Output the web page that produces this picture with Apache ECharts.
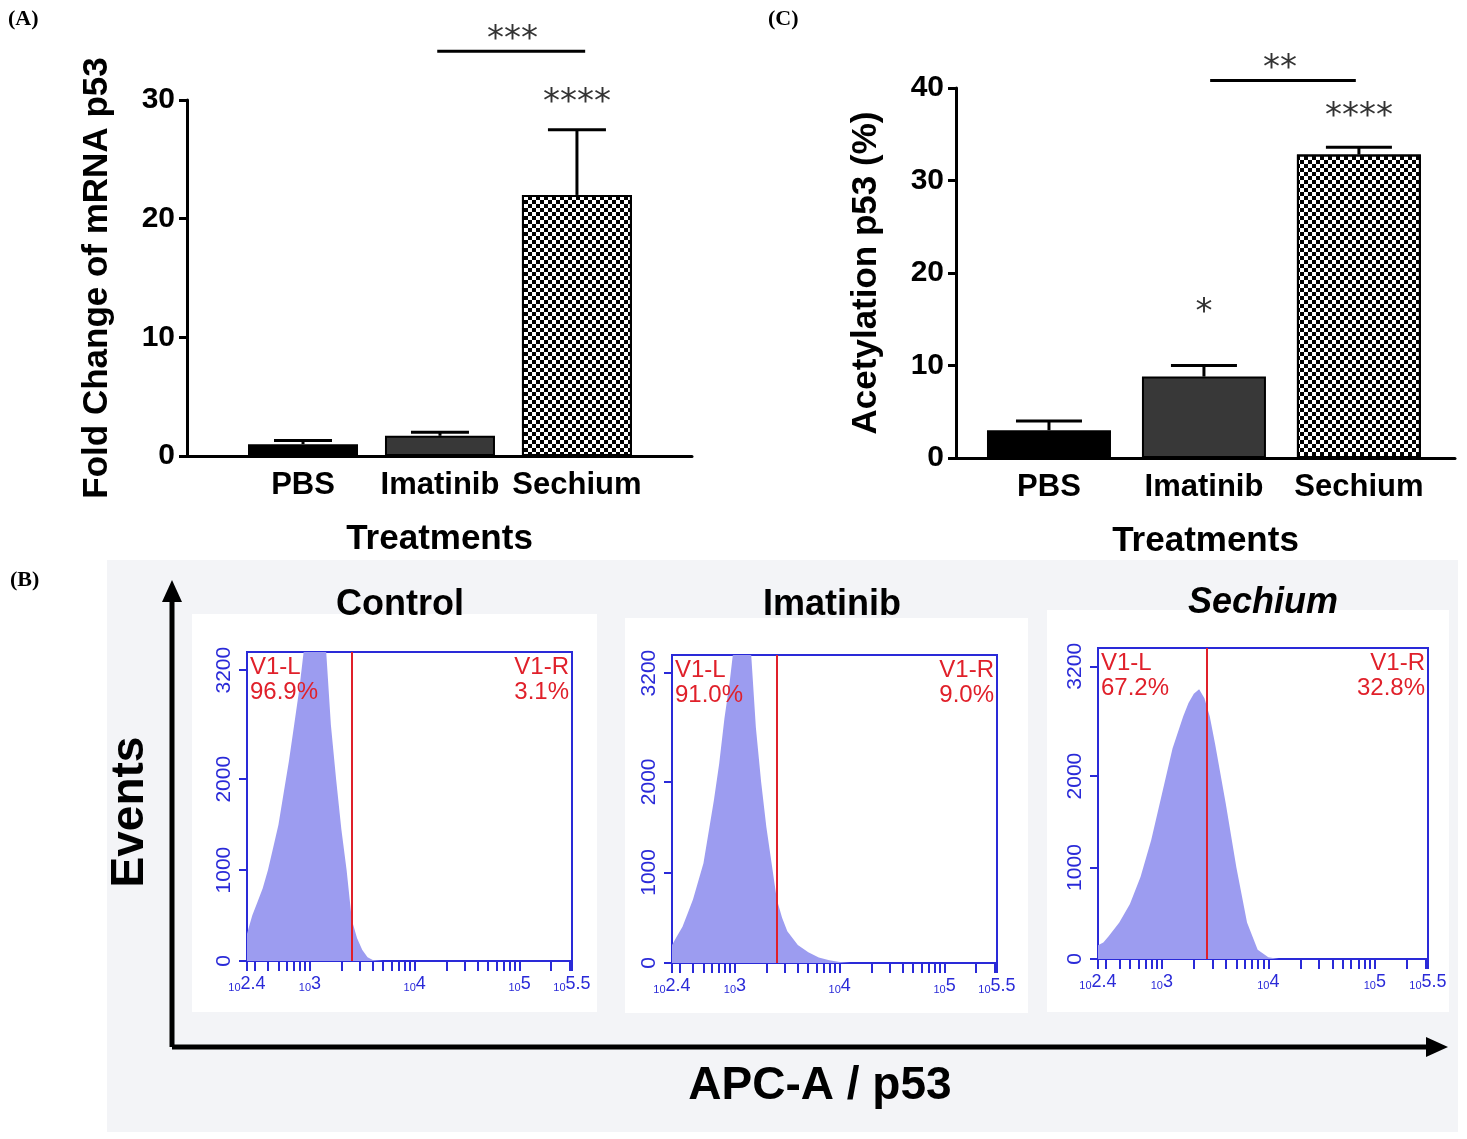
<!DOCTYPE html>
<html><head><meta charset="utf-8">
<script src="https://cdn.jsdelivr.net/npm/echarts@6/dist/echarts.min.js"></script>
<style>html,body{margin:0;background:#fff}#c{width:1467px;height:1139px}</style>
</head><body><div id="c"></div>
<script>
// panel A: fold change of mRNA p53
const treatments = ['PBS', 'Imatinib', 'Sechium'];
const foldMean = [1.0, 1.7, 22.0];
const foldUpper = [1.3, 2.0, 27.5];
const foldTicks = [0, 10, 20, 30];
// panel C: acetylation p53 (%)
const acetMean = [3.0, 8.8, 32.8];
const acetUpper = [4.0, 10.0, 33.6];
const acetTicks = [0, 10, 20, 30, 40];
// significance marks [x1, x2, y] and [x, y, text]
const sigLinesA = [[1.98, 3.06, 34.1]];
const starsA = [[2.53, 35.0, '***'], [3, 29.7, '****']];
const sigLinesC = [[2.04, 2.98, 40.8]];
const starsC = [[2.49, 42.0, '**'], [3, 36.8, '****'], [2, 15.7, '*']];
// panel B: histograms, x = log10(APC-A), y = events
const histTitles = ['Control', 'Imatinib', 'Sechium'];
const gatePos = [3.40, 3.40, 3.42];
const leftPct = ['96.9%', '91.0%', '67.2%'];
const rightPct = ['3.1%', '9.0%', '32.8%'];
const histControl = [[2.4,300],[2.45,500],[2.5,650],[2.55,800],[2.6,1000],[2.65,1250],[2.7,1500],[2.75,1850],[2.8,2200],[2.85,2600],[2.9,3000],[2.95,3500],[3.0,3600],[3.1,3600],[3.15,3500],[3.2,2600],[3.25,2000],[3.3,1450],[3.35,1000],[3.4,450],[3.45,250],[3.5,120],[3.55,40],[3.6,10],[3.7,0],[5.5,0]];
const histImatinib = [[2.4,200],[2.45,300],[2.5,400],[2.55,550],[2.6,700],[2.7,1100],[2.8,1800],[2.85,2200],[2.9,2700],[2.95,3100],[3.0,3600],[3.1,3600],[3.15,3500],[3.2,2600],[3.25,2000],[3.3,1500],[3.35,1100],[3.4,700],[3.45,500],[3.5,350],[3.6,200],[3.7,120],[3.8,60],[3.9,30],[4.0,10],[4.1,0],[5.5,0]];
const histSechium = [[2.4,150],[2.45,180],[2.5,250],[2.6,400],[2.7,600],[2.8,900],[2.9,1300],[3.0,1800],[3.1,2300],[3.2,2650],[3.25,2800],[3.3,2900],[3.35,2950],[3.4,2850],[3.45,2650],[3.5,2350],[3.6,1700],[3.7,1000],[3.8,400],[3.9,100],[4.0,20],[4.1,0],[5.5,0]];
const histData = [histControl, histImatinib, histSechium];
const histYLabels = [0, 1000, 2000, 3200];
const histXMajor = [2.4, 3, 4, 5, 5.5];
const histXLabels = ['2.4', '3', '4', '5', '5.5'];
const histXMinor = [300,400,500,600,700,800,900,2000,3000,4000,5000,6000,7000,8000,9000,20000,30000,40000,50000,60000,70000,80000,90000,200000,300000].map(v => Math.log10(v));

const chart = echarts.init(document.getElementById('c'));
const bold = 'Liberation Sans';
const blue = '#2a2ad8';

function barAxes(gi, min, max, ticks, title, nameGap) {
    return {
        x: {type: 'value', gridIndex: gi, min: min, max: max, splitLine: {show: false},
            axisLine: {lineStyle: {color: '#000', width: 3}}, axisTick: {show: false},
            axisLabel: {customValues: [1, 2, 3], formatter: v => treatments[Math.round(v) - 1],
                fontFamily: bold, fontWeight: 'bold', fontSize: 31, color: '#000', margin: 14},
            name: 'Treatments', nameLocation: 'middle', nameGap: 66,
            nameTextStyle: {fontFamily: bold, fontWeight: 'bold', fontSize: 35, color: '#000'}},
        y: {type: 'value', gridIndex: gi, min: 0, max: ticks[ticks.length - 1], interval: 10,
            splitLine: {show: false}, axisLine: {show: true, lineStyle: {color: '#000', width: 3}},
            axisTick: {show: true, length: 8, lineStyle: {width: 3}},
            axisLabel: {fontFamily: bold, fontWeight: 'bold', fontSize: 30, color: '#000', margin: 12},
            name: title, nameLocation: 'middle', nameGap: nameGap, nameRotate: 90,
            nameTextStyle: {fontFamily: bold, fontWeight: 'bold', fontSize: 35, color: '#000'}}
    };
}
const axA = barAxes(0, 0.153, 3.84, foldTicks, 'Fold Change of mRNA p53', 72);
const axC = barAxes(1, 0.4, 3.62, acetTicks, 'Acetylation p53 (%)', 72);

const checker = {symbol: 'rect', symbolSize: 1, color: '#000', dashArrayX: [[4, 4], [0, 4, 4, 0]], dashArrayY: [4, 0]};
function bars(gi, means, width) {
    return {type: 'bar', xAxisIndex: gi, yAxisIndex: gi, barWidth: width,
        data: means.map((m, i) => ({value: [i + 1, m], itemStyle: i === 2 ?
            {color: '#fff', borderColor: '#000', borderWidth: 2, decal: checker} :
            {color: i === 0 ? '#000' : '#383838', borderColor: '#000', borderWidth: 2}}))};
}
function errs(gi, means, uppers, cap) {
    return {type: 'custom', xAxisIndex: gi, yAxisIndex: gi, clip: false,
        data: means.map((m, i) => [i + 1, m, uppers[i]]),
        renderItem: (p, api) => {
            const a = api.coord([api.value(0), api.value(1)]), b = api.coord([api.value(0), api.value(2)]);
            const st = {stroke: '#000', lineWidth: 3};
            return {type: 'group', children: [
                {type: 'line', shape: {x1: a[0], y1: a[1], x2: b[0], y2: b[1]}, style: st},
                {type: 'line', shape: {x1: b[0] - cap / 2, y1: b[1], x2: b[0] + cap / 2, y2: b[1]}, style: st}]};
        }};
}
function sigLines(gi, lines) {
    return {type: 'custom', xAxisIndex: gi, yAxisIndex: gi, clip: false, data: lines,
        renderItem: (p, api) => {
            const a = api.coord([api.value(0), api.value(2)]), b = api.coord([api.value(1), api.value(2)]);
            return {type: 'line', shape: {x1: a[0], y1: a[1], x2: b[0], y2: b[1]}, style: {stroke: '#000', lineWidth: 3}};
        }};
}
function stars(gi, list) {
    return {type: 'custom', xAxisIndex: gi, yAxisIndex: gi, clip: false,
        data: list.map(s => [s[0], s[1]]),
        renderItem: (p, api) => {
            const a = api.coord([api.value(0), api.value(1)]);
            return {type: 'text', x: a[0], y: a[1], style: {text: list[p.dataIndex][2], fontSize: 34,
                fontFamily: 'DejaVu Sans', fill: '#333', align: 'center', verticalAlign: 'middle'}};
        }};
}

const histGrids = [[247, 652, 325, 309], [672, 655, 325, 308], [1098, 648, 330, 311]];
const xAxes = [axA.x, axC.x], yAxes = [axA.y, axC.y];
const grids = [
    {left: 187, top: 100, width: 505, height: 356},
    {left: 956, top: 88, width: 499, height: 370}
];
const series = [bars(0, foldMean, 110), errs(0, foldMean, foldUpper, 58), sigLines(0, sigLinesA), stars(0, starsA),
    bars(1, acetMean, 124), errs(1, acetMean, acetUpper, 66), sigLines(1, sigLinesC), stars(1, starsC)];
const graphics = [
    {type: 'rect', shape: {x: 107, y: 560, width: 1351, height: 572}, style: {fill: '#f3f4f7'}, z: -10},
    {type: 'text', x: 8, y: 8, style: {text: '(A)', font: 'bold 22px Liberation Serif', fill: '#000'}},
    {type: 'text', x: 768, y: 8, style: {text: '(C)', font: 'bold 22px Liberation Serif', fill: '#000'}},
    {type: 'text', x: 10, y: 569, style: {text: '(B)', font: 'bold 22px Liberation Serif', fill: '#000'}},
    {type: 'line', shape: {x1: 172, y1: 1047, x2: 172, y2: 592}, style: {stroke: '#000', lineWidth: 5}},
    {type: 'polygon', shape: {points: [[172, 580], [162, 602], [182, 602]]}, style: {fill: '#000'}},
    {type: 'line', shape: {x1: 172, y1: 1047, x2: 1432, y2: 1047}, style: {stroke: '#000', lineWidth: 5}},
    {type: 'polygon', shape: {points: [[1448, 1047], [1426, 1037], [1426, 1057]]}, style: {fill: '#000'}},
    {type: 'text', x: 130, y: 812, rotation: Math.PI / 2, style: {text: 'Events', font: 'bold 46px Liberation Sans', fill: '#000', align: 'center', verticalAlign: 'middle'}},
    {type: 'text', x: 820, y: 1086, style: {text: 'APC-A / p53', font: 'bold 46px Liberation Sans', fill: '#000', align: 'center', verticalAlign: 'middle'}}
];
const titleX = [400, 832, 1263], titleY = [605, 605, 603], boxes = [[192, 614, 405, 398], [625, 618, 403, 395], [1047, 610, 402, 402]];
histData.forEach((d, i) => {
    const gi = i + 2, g = histGrids[i];
    grids.push({left: g[0], top: g[1], width: g[2], height: g[3], show: true, borderColor: blue, borderWidth: 2, backgroundColor: 'transparent'});
    graphics.push({type: 'rect', shape: {x: boxes[i][0], y: boxes[i][1], width: boxes[i][2], height: boxes[i][3]}, style: {fill: '#fff'}, z: -5});
    graphics.push({type: 'text', x: titleX[i], y: titleY[i], style: {text: histTitles[i], font: (i === 2 ? 'italic ' : '') + 'bold 36px Liberation Sans', fill: '#000', align: 'center', verticalAlign: 'middle'}});
    graphics.push({type: 'text', z: 100, x: g[0] + 3, y: g[1] + 3, style: {text: 'V1-L\n' + leftPct[i], font: '24px Liberation Sans', fill: '#e0202a', lineHeight: 25}});
    graphics.push({type: 'text', z: 100, x: g[0] + g[2] - 3, y: g[1] + 3, style: {text: 'V1-R\n' + rightPct[i], font: '24px Liberation Sans', fill: '#e0202a', lineHeight: 25, align: 'right'}});
    xAxes.push({type: 'value', gridIndex: gi, min: 2.4, max: 5.5, splitLine: {show: false},
        axisLine: {lineStyle: {color: blue, width: 2}},
        axisTick: {customValues: histXMajor.concat(histXMinor), length: 10, lineStyle: {color: blue, width: 2}},
        axisLabel: {customValues: histXMajor, formatter: v => '{b|10}{s|' + histXLabels[histXMajor.findIndex(m => Math.abs(m - v) < 1e-6)] + '}',
            margin: 14, rich: {b: {fontSize: 11, color: blue, padding: [6, 0, 0, 0]}, s: {fontSize: 18, color: blue, padding: [0, 0, 2, 0]}}}});
    yAxes.push({type: 'value', gridIndex: gi, min: 0, max: 3400, splitLine: {show: false},
        axisLine: {show: true, lineStyle: {color: blue, width: 2}},
        axisTick: {show: true, customValues: histYLabels, length: 8, lineStyle: {color: blue, width: 2}},
        axisLabel: {customValues: histYLabels, formatter: v => String(v), rotate: 90, fontSize: 21, color: blue, margin: 12, fontFamily: 'Liberation Sans'}});
    series.push({type: 'line', xAxisIndex: gi, yAxisIndex: gi, data: d, showSymbol: false, clip: true, z: 1,
        lineStyle: {width: 0}, areaStyle: {color: '#9c9cf0', opacity: 1},
        markLine: {symbol: 'none', silent: true, label: {show: false}, lineStyle: {color: '#e0202a', width: 2, type: 'solid'}, data: [{xAxis: gatePos[i]}]}});
});

chart.setOption({animation: false, grid: grids, xAxis: xAxes, yAxis: yAxes, series: series, graphic: graphics});
</script></body></html>
